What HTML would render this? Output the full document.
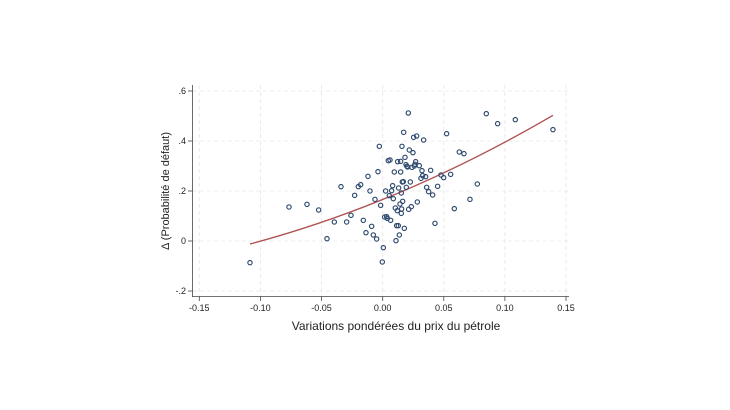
<!DOCTYPE html>
<html><head><meta charset="utf-8"><style>
body{margin:0;background:#fff;}
svg{display:block;font-family:"Liberation Sans",sans-serif;}
</style></head><body>
<svg width="730" height="410" viewBox="0 0 730 410">
<rect width="730" height="410" fill="#fff"/>
<g stroke="#e6e6e6" stroke-width="0.8" stroke-dasharray="4,3">
<line x1="193" y1="91" x2="569" y2="91"/>
<line x1="193" y1="141" x2="569" y2="141"/>
<line x1="193" y1="191" x2="569" y2="191"/>
<line x1="193" y1="241" x2="569" y2="241"/>
<line x1="193" y1="291" x2="569" y2="291"/>
<line x1="199.3" y1="85" x2="199.3" y2="296"/>
<line x1="260.4" y1="85" x2="260.4" y2="296"/>
<line x1="321.5" y1="85" x2="321.5" y2="296"/>
<line x1="382.7" y1="85" x2="382.7" y2="296"/>
<line x1="443.8" y1="85" x2="443.8" y2="296"/>
<line x1="504.9" y1="85" x2="504.9" y2="296"/>
<line x1="566" y1="85" x2="566" y2="296"/>
</g>
<g stroke="#444" stroke-width="0.8">
<line x1="192.5" y1="85" x2="192.5" y2="297"/>
<line x1="192" y1="296.5" x2="569" y2="296.5"/>
<line x1="188" y1="91" x2="192.5" y2="91"/>
<line x1="188" y1="141" x2="192.5" y2="141"/>
<line x1="188" y1="191" x2="192.5" y2="191"/>
<line x1="188" y1="241" x2="192.5" y2="241"/>
<line x1="188" y1="291" x2="192.5" y2="291"/>
<line x1="199.3" y1="296.5" x2="199.3" y2="301"/>
<line x1="260.4" y1="296.5" x2="260.4" y2="301"/>
<line x1="321.5" y1="296.5" x2="321.5" y2="301"/>
<line x1="382.7" y1="296.5" x2="382.7" y2="301"/>
<line x1="443.8" y1="296.5" x2="443.8" y2="301"/>
<line x1="504.9" y1="296.5" x2="504.9" y2="301"/>
<line x1="566" y1="296.5" x2="566" y2="301"/>
</g>
<g font-size="9" fill="#222" text-anchor="end">
<text x="186" y="94">.6</text>
<text x="186" y="144">.4</text>
<text x="186" y="194">.2</text>
<text x="186" y="244">0</text>
<text x="186" y="294">-.2</text>
</g>
<g font-size="9" fill="#222" text-anchor="middle">
<text x="199.3" y="311">-0.15</text>
<text x="260.4" y="311">-0.10</text>
<text x="321.5" y="311">-0.05</text>
<text x="382.7" y="311">0.00</text>
<text x="443.8" y="311">0.05</text>
<text x="504.9" y="311">0.10</text>
<text x="566" y="311">0.15</text>
</g>
<text x="396" y="330" font-size="12" fill="#222" text-anchor="middle">Variations pondérées du prix du pétrole</text>
<text transform="translate(169,191) rotate(-90)" font-size="11" fill="#222" text-anchor="middle">Δ (Probabilité de défaut)</text>
<g transform="translate(160,80) scale(0.3333)">
<path d="M270,492 Q724.5,371 1179,106" fill="none" stroke="#b05050" stroke-width="4"/>
<g fill="none" stroke="#2e4a6e" stroke-width="3.5">
<circle cx="270" cy="548" r="6.5"/><circle cx="387" cy="381" r="6.5"/><circle cx="441" cy="373" r="6.5"/><circle cx="476" cy="390" r="6.5"/><circle cx="501" cy="476" r="6.5"/><circle cx="523" cy="426" r="6.5"/><circle cx="543" cy="320" r="6.5"/><circle cx="560" cy="426" r="6.5"/><circle cx="573" cy="406" r="6.5"/><circle cx="584" cy="346" r="6.5"/><circle cx="595" cy="320" r="6.5"/><circle cx="602" cy="314" r="6.5"/><circle cx="610" cy="421" r="6.5"/><circle cx="618" cy="458" r="6.5"/><circle cx="624" cy="289" r="6.5"/><circle cx="630" cy="333" r="6.5"/><circle cx="635" cy="439" r="6.5"/><circle cx="640" cy="465" r="6.5"/><circle cx="645" cy="358" r="6.5"/><circle cx="650" cy="477" r="6.5"/><circle cx="654" cy="275" r="6.5"/><circle cx="658" cy="199" r="6.5"/><circle cx="662" cy="376" r="6.5"/><circle cx="667" cy="546" r="6.5"/><circle cx="670" cy="503" r="6.5"/><circle cx="674" cy="411" r="6.5"/><circle cx="677" cy="333" r="6.5"/><circle cx="680" cy="410" r="6.5"/><circle cx="682" cy="415" r="6.5"/><circle cx="685" cy="242" r="6.5"/><circle cx="688" cy="347" r="6.5"/><circle cx="690" cy="240" r="6.5"/><circle cx="692" cy="421" r="6.5"/><circle cx="695" cy="332" r="6.5"/><circle cx="698" cy="317" r="6.5"/><circle cx="700" cy="356" r="6.5"/><circle cx="703" cy="276" r="6.5"/><circle cx="706" cy="384" r="6.5"/><circle cx="708" cy="482" r="6.5"/><circle cx="710" cy="437" r="6.5"/><circle cx="712" cy="392" r="6.5"/><circle cx="713" cy="245" r="6.5"/><circle cx="715" cy="437" r="6.5"/><circle cx="716" cy="324" r="6.5"/><circle cx="718" cy="465" r="6.5"/><circle cx="720" cy="372" r="6.5"/><circle cx="722" cy="276" r="6.5"/><circle cx="722" cy="244" r="6.5"/><circle cx="724" cy="339" r="6.5"/><circle cx="724" cy="400" r="6.5"/><circle cx="725" cy="387" r="6.5"/><circle cx="726" cy="199" r="6.5"/><circle cx="727" cy="306" r="6.5"/><circle cx="728" cy="364" r="6.5"/><circle cx="730" cy="305" r="6.5"/><circle cx="731" cy="157" r="6.5"/><circle cx="733" cy="445" r="6.5"/><circle cx="735" cy="232" r="6.5"/><circle cx="738" cy="254" r="6.5"/><circle cx="739" cy="322" r="6.5"/><circle cx="741" cy="259" r="6.5"/><circle cx="743" cy="261" r="6.5"/><circle cx="745" cy="99" r="6.5"/><circle cx="746" cy="388" r="6.5"/><circle cx="748" cy="210" r="6.5"/><circle cx="751" cy="306" r="6.5"/><circle cx="754" cy="380" r="6.5"/><circle cx="756" cy="262" r="6.5"/><circle cx="759" cy="218" r="6.5"/><circle cx="761" cy="172" r="6.5"/><circle cx="763" cy="258" r="6.5"/><circle cx="765" cy="253" r="6.5"/><circle cx="767" cy="245" r="6.5"/><circle cx="770" cy="168" r="6.5"/><circle cx="772" cy="366" r="6.5"/><circle cx="778" cy="257" r="6.5"/><circle cx="783" cy="295" r="6.5"/><circle cx="786" cy="272" r="6.5"/><circle cx="788" cy="287" r="6.5"/><circle cx="791" cy="180" r="6.5"/><circle cx="797" cy="290" r="6.5"/><circle cx="800" cy="322" r="6.5"/><circle cx="806" cy="335" r="6.5"/><circle cx="812" cy="271" r="6.5"/><circle cx="818" cy="345" r="6.5"/><circle cx="825" cy="430" r="6.5"/><circle cx="833" cy="319" r="6.5"/><circle cx="843" cy="285" r="6.5"/><circle cx="851" cy="293" r="6.5"/><circle cx="860" cy="161" r="6.5"/><circle cx="872" cy="283" r="6.5"/><circle cx="883" cy="386" r="6.5"/><circle cx="898" cy="216" r="6.5"/><circle cx="912" cy="221" r="6.5"/><circle cx="930" cy="358" r="6.5"/><circle cx="952" cy="312" r="6.5"/><circle cx="979" cy="101" r="6.5"/><circle cx="1013" cy="131" r="6.5"/><circle cx="1066" cy="119" r="6.5"/><circle cx="1179" cy="149" r="6.5"/>
</g>
</g>
</svg>
</body></html>
